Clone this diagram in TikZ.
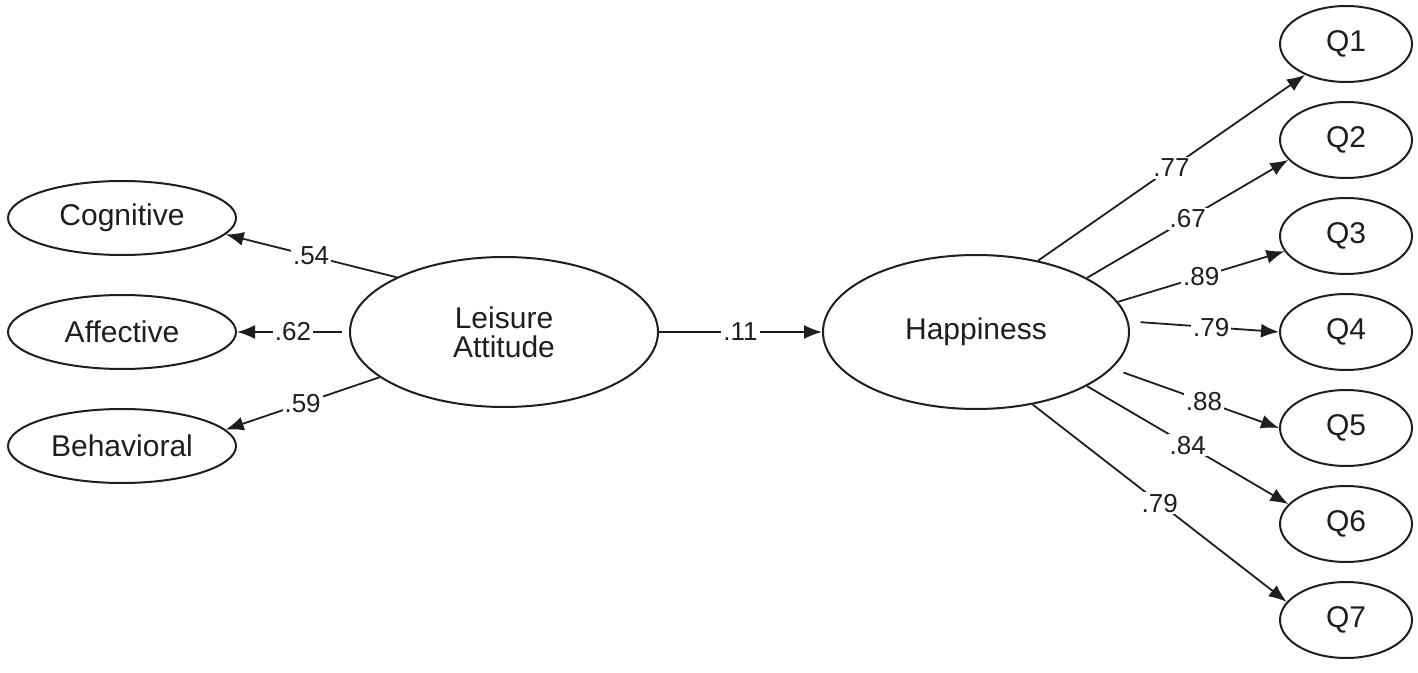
\documentclass[tikz,border=0pt]{standalone}
\usepackage{fontspec}
\setmainfont{Liberation Sans}
\usetikzlibrary{arrows.meta,shapes.geometric}
\definecolor{ink}{HTML}{1E1E1E}
\begin{document}
\begin{tikzpicture}[x=0.5pt,y=-0.5pt,
  lat/.style={draw=ink,ellipse,line width=1pt,inner sep=0pt,text=ink,font=\fontsize{15}{14.5}\selectfont,align=center},
  obs/.style={lat,minimum width=114pt,minimum height=37pt},
  qbox/.style={lat,minimum width=66pt,minimum height=38pt},
  conn/.style={draw=ink,-{Latex[length=9pt,width=7pt]},line width=0.9pt},
  lbl/.style={fill=white,inner sep=1pt,text=ink,font=\fontsize{13}{14}\selectfont}
]
\useasboundingbox (0,0) rectangle (1418,673);

% indicators of Leisure Attitude
\node[obs] (cog) at (122,218) {Cognitive};
\node[obs] (aff) at (122,332) {Affective};
\node[obs] (beh) at (122,446) {Behavioral};

% latent variables
\node[lat,minimum width=154pt,minimum height=75pt] (la) at (504,332) {Leisure\\Attitude};
\node[lat,minimum width=153pt,minimum height=77pt] (hap) at (976,332) {Happiness};

% items of Happiness
\node[qbox] (q1) at (1346,44) {Q1};
\node[qbox] (q2) at (1346,140) {Q2};
\node[qbox] (q3) at (1346,236) {Q3};
\node[qbox] (q4) at (1346,332) {Q4};
\node[qbox] (q5) at (1346,428) {Q5};
\node[qbox] (q6) at (1346,524) {Q6};
\node[qbox] (q7) at (1346,620) {Q7};

% Leisure Attitude paths
\draw[conn] (la.153.6) -- node[lbl]{.54} (cog.-9.5);
\draw[conn,shorten <=3.5pt] (la.west) -- node[lbl]{.62} (aff.east);
\draw[conn] (la.200.1) -- node[lbl]{.59} (beh.9.9);

% structural path
\draw[conn] (la.east) -- node[lbl]{.11} (hap.west);

% Happiness paths
\draw[conn] (hap.49.9) -- node[lbl]{.77} (q1.217.7);
\draw[conn] (hap.26.8) -- node[lbl]{.67} (q2.199.2);
\draw[conn] (hap.12.9) -- node[lbl]{.89} (q3.194.6);
\draw[conn,shorten <=6pt] (hap.4) -- node[lbl,pos=0.55]{.79} (q4.west);
\draw[conn,shorten <=6pt] (hap.-15) -- node[lbl,pos=0.55]{.88} (q5.west);
\draw[conn] (hap.-26.8) -- node[lbl]{.84} (q6.161.6);
\draw[conn] (hap.-52.8) -- node[lbl]{.79} (q7.163.6);
\end{tikzpicture}
\end{document}
